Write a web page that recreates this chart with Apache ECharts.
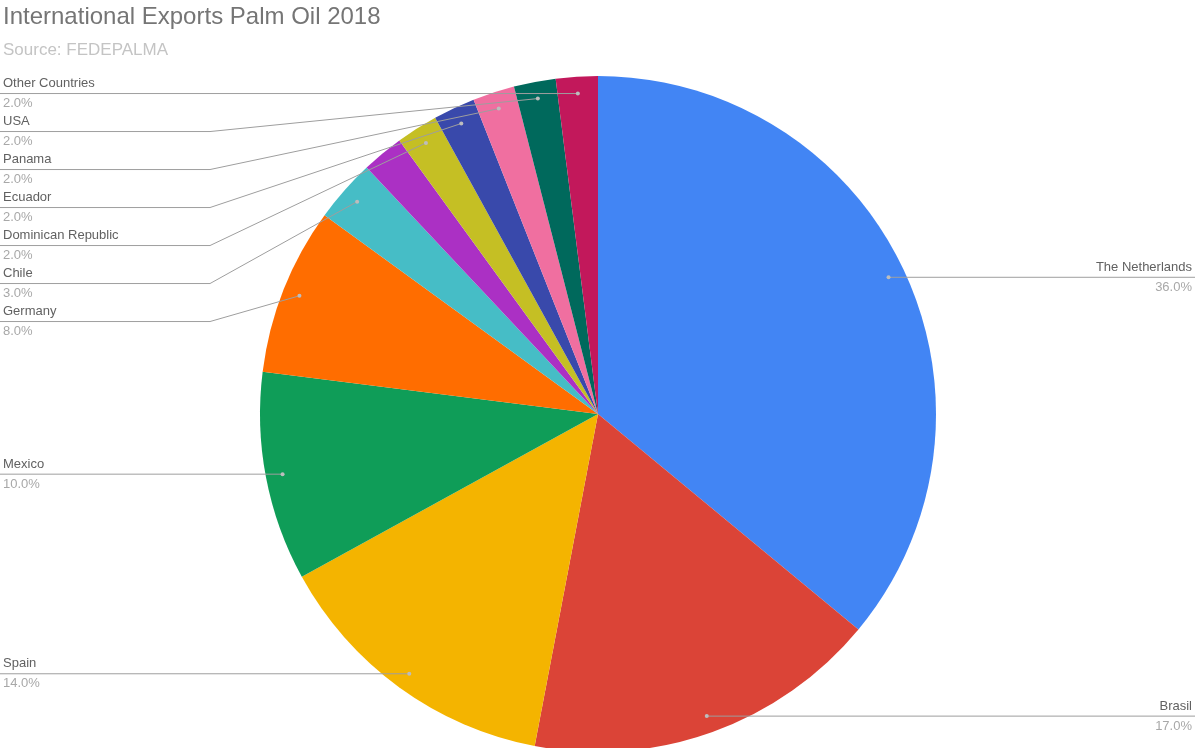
<!DOCTYPE html>
<html>
<head>
<meta charset="utf-8">
<title>International Exports Palm Oil 2018</title>
<script src="https://cdn.jsdelivr.net/npm/echarts@6/dist/echarts.min.js"></script>
<style>
  html, body { margin: 0; padding: 0; background: #ffffff; }
  #chart { width: 1195px; height: 748px; }
</style>
</head>
<body>
<div id="chart"></div>
<script>
// Destination countries, in slice order clockwise from 12 o'clock.
// One 2% slice carries no label in the chart, so its name is left empty.
const countries = ['The Netherlands', 'Brasil', 'Spain', 'Mexico', 'Germany', 'Chile', '',
                   'Dominican Republic', 'Ecuador', 'Panama', 'USA', 'Other Countries'];
// Share of exports, percent.
const shares = [36, 17, 14, 10, 8, 3, 2, 2, 2, 2, 2, 2];

const palette = ['#4285F4', '#DB4437', '#F4B400', '#0F9D58', '#FF6D00', '#46BDC6',
                 '#AB30C4', '#C5BF24', '#3949AB', '#F06FA0', '#00695C', '#C2185B'];

const W = 1195, H = 748;
const CX = 598, CY = 414, R = 338;
const FONT = '"Liberation Sans", Arial, sans-serif';

// Leader-line anchor inside each slice, at its mid angle.
const total = shares.reduce((a, b) => a + b, 0);
let acc = 0;
const anchors = shares.map(v => {
  const mid = (acc + v / 2) / total * 2 * Math.PI;
  acc += v;
  return {
    x: CX + 0.95 * R * Math.sin(mid),
    y: CY - 0.95 * R * Math.cos(mid),
    left: Math.sin(mid) < 0
  };
});

// Labels sit level with their anchor, pushed down a row when they would collide.
const ROW = 38;
const labelY = [];
[true, false].forEach(side => {
  const idx = anchors.map((a, i) => i)
    .filter(i => countries[i] && anchors[i].left === side)
    .sort((a, b) => anchors[a].y - anchors[b].y);
  let prev = -Infinity;
  idx.forEach(i => {
    const y = Math.max(anchors[i].y, prev + ROW);
    labelY[i] = y;
    prev = y;
  });
});

const pieData = countries.map((name, i) => ({ name: name, value: shares[i] }));

const chart = echarts.init(document.getElementById('chart'), null, { renderer: 'canvas' });

chart.setOption({
  animation: false,
  color: palette,
  title: {
    text: 'International Exports Palm Oil 2018',
    subtext: 'Source: FEDEPALMA',
    left: -2,
    top: 0,
    itemGap: 13,
    textStyle: { fontFamily: FONT, fontSize: 24, fontWeight: 'normal', color: '#757575' },
    subtextStyle: { fontFamily: FONT, fontSize: 17, color: '#c4c4c4' }
  },
  graphic: anchors
    .map((a, i) => countries[i] ? {
      type: 'circle',
      z: 100,
      shape: { cx: a.x, cy: a.y, r: 2 },
      style: { fill: '#bdbdbd' }
    } : null)
    .filter(Boolean),
  series: [
    {
      // the slices
      type: 'pie',
      z: 2,
      center: [CX, CY],
      radius: R,
      startAngle: 90,
      clockwise: true,
      itemStyle: { borderWidth: 0 },
      emphasis: { disabled: true },
      label: { show: false },
      labelLine: { show: false },
      data: pieData
    },
    {
      // labels and leader lines, layered above the slices
      type: 'pie',
      z: 3,
      silent: true,
      center: [CX, CY],
      radius: R,
      startAngle: 90,
      clockwise: true,
      avoidLabelOverlap: false,
      itemStyle: { color: 'rgba(0,0,0,0)', borderWidth: 0 },
      emphasis: { disabled: true },
      data: pieData.map(d => ({
        name: d.name,
        value: d.value,
        label: { show: !!d.name },
        labelLine: { show: !!d.name }
      })),
      label: {
        position: 'outside',
        formatter: p => '{n|' + p.name + '}\n{v|' + p.value.toFixed(1) + '%}',
        rich: {
          n: { fontFamily: FONT, fontSize: 13, color: '#616161', lineHeight: 20 },
          v: { fontFamily: FONT, fontSize: 13, color: '#a8a8a8', lineHeight: 20 }
        }
      },
      labelLine: {
        show: true,
        length: 10,
        length2: 10,
        lineStyle: { color: '#9e9e9e', width: 1 }
      },
      labelLayout: function (p) {
        const i = p.dataIndex;
        const a = anchors[i];
        const y = labelY[i];
        if (y == null) return {};
        const bendX = a.left ? 210 : W - 210;
        return {
          x: a.left ? 3 : W - 3,
          y: y,
          align: a.left ? 'left' : 'right',
          verticalAlign: 'middle',
          labelLinePoints: [[a.x, a.y], [bendX, y], [a.left ? 0 : W, y]]
        };
      }
    }
  ]
});
</script>
</body>
</html>
